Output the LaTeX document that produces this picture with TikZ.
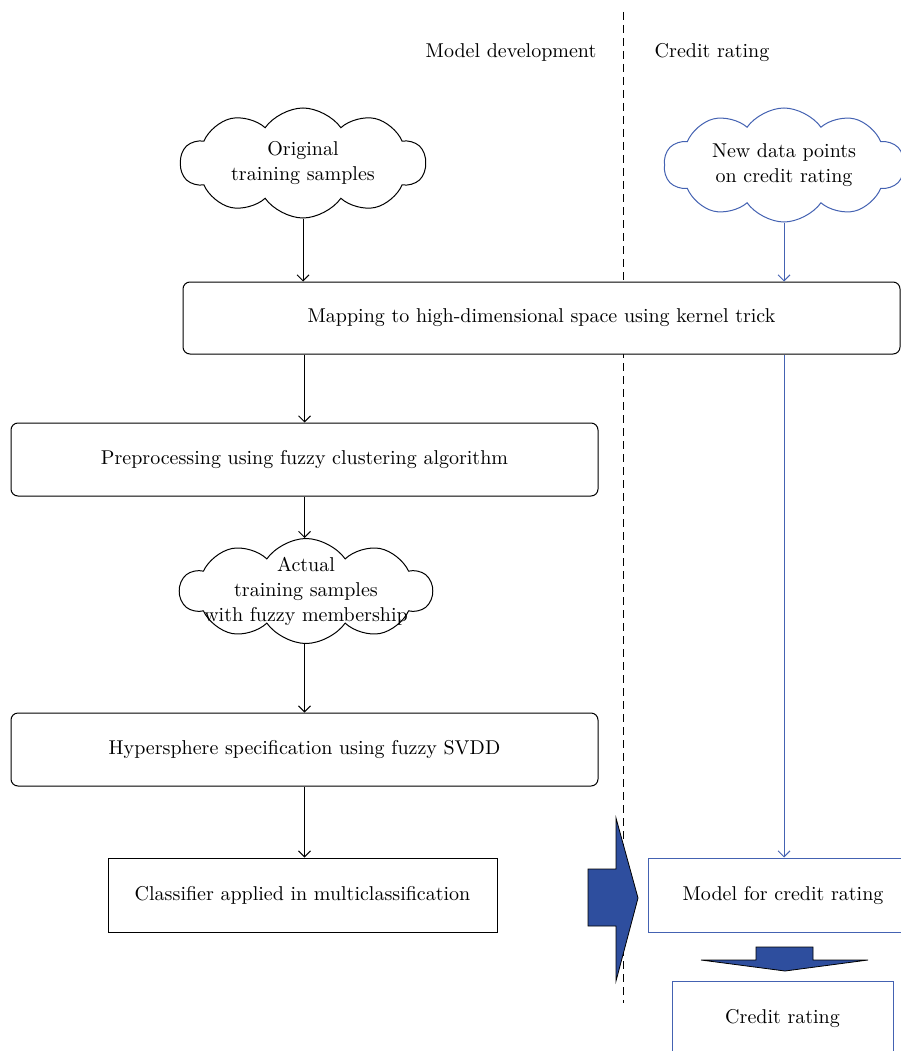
\documentclass[tikz,border=0pt]{standalone}
\usepackage{fontspec}
\setmainfont{lmroman10-regular}[Extension=.otf]
\usetikzlibrary{shapes.symbols,arrows.meta}
\definecolor{lblue}{RGB}{68,98,178}
\definecolor{fblue}{RGB}{46,78,158}
\begin{document}
\begin{tikzpicture}[x=1pt,y=-1pt,
  font=\fontsize{20}{25}\selectfont,
  line width=1pt,
  arr/.style={-{Straight Barb[length=6pt,width=12pt]}},
  rbox/.style={draw,fill=white,rounded corners=7pt,minimum height=73pt,inner sep=0pt},
  sbox/.style={draw,fill=white,minimum height=74pt,inner sep=0pt},
  cl/.style={cloud,draw,cloud puffs=10,cloud puff arc=110,cloud ignores aspect,inner sep=0pt,align=center,fill=white},
  hdr/.style={inner sep=0pt}]
\useasboundingbox (0,0) rectangle (901,1051);
\clip (0,0) rectangle (901,1051);
% divider
\draw[dash pattern=on 8pt off 5pt] (623,12) -- (623,1003);
% header labels
\node[hdr] (hl) at (511,53) {Model development};
\node[hdr] (hr) at (712,53) {Credit rating};
% clouds
\node[cl,minimum width=245pt,minimum height=110pt] (c1) at (303,163) {Original\\training samples};
\node[cl,draw=lblue,minimum width=240pt,minimum height=114pt] (c2) at (784,165) {New data points\\on credit rating};
% boxes
\node[rbox,minimum width=717pt,minimum height=72pt] (b1) at (541.5,318) {Mapping to high-dimensional space using kernel trick};
\node[rbox,minimum width=587pt] (b2) at (304.5,459.5) {Preprocessing using fuzzy clustering algorithm};
\node[cl,inner sep=-18pt,minimum width=252pt,minimum height=105pt] (c3) at (306,591) {Actual\\training samples\\with fuzzy membership};
\node[rbox,minimum width=587pt] (b3) at (304.5,749.5) {Hypersphere specification using fuzzy SVDD};
\node[sbox,minimum width=389pt] (b4) at (302.5,895) {Classifier applied in multiclassification};
\node[sbox,draw=lblue,minimum width=270pt] (mb) at (783,895) {Model for credit rating};
\node[sbox,draw=lblue,minimum width=221pt] (cr) at (782.5,1018) {Credit rating};
% connectors
\draw[arr] (c1.south) -- (c1.south |- b1.north);
\draw[arr] (b1.south -| b2.north) -- (b2.north);
\draw[arr] (b2.south) -- (b2.south |- c3.north);
\draw[arr] (c3.south -| b3.north) -- (b3.north);
\draw[arr] (b3.south) -- (b3.south |- b4.north);
\draw[arr,lblue] (c2.south) -- (c2.south |- b1.north);
\draw[arr,lblue] (b1.south -| c2.south) -- (c2.south |- mb.north);
% block arrows
\draw[fill=fblue,line width=0.8pt] (588,869) -- (616,869) -- (616,818) -- (638,898) -- (616,981) -- (616,926) -- (588,926) -- cycle;
\draw[fill=fblue,line width=0.8pt] (756,947) -- (813,947) -- (813,960) -- (868,960) -- (785,971) -- (701,960) -- (756,960) -- cycle;
\end{tikzpicture}
\end{document}
